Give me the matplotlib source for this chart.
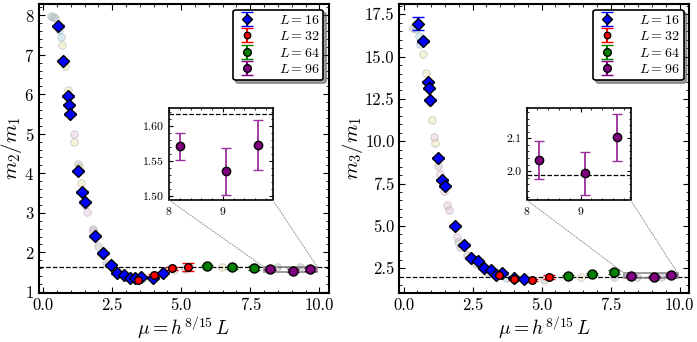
import matplotlib
matplotlib.use('Agg')
import matplotlib.pyplot as plt
import numpy as np
from matplotlib.patches import Rectangle, ConnectionPatch
from matplotlib.ticker import AutoMinorLocator, MultipleLocator

plt.rcParams['font.family'] = 'serif'
plt.rcParams['font.serif'] = ['cmr10', 'DejaVu Serif']
plt.rcParams['mathtext.fontset'] = 'cm'
plt.rcParams['axes.formatter.use_mathtext'] = True
plt.rcParams['axes.unicode_minus'] = False

# ---- data: m2/m1 ----
L_labels = ['16', '32', '64', '96']

m2_x16 = [0.54, 0.72, 0.89, 0.93, 0.97, 1.27, 1.39, 1.51, 1.87, 2.17, 2.44, 2.68, 2.92, 3.14, 3.33, 3.54, 3.96, 4.35]
m2_y16 = [7.72, 6.85, 5.95, 5.74, 5.50, 4.06, 3.53, 3.28, 2.41, 1.99, 1.69, 1.48, 1.42, 1.36, 1.34, 1.38, 1.36, 1.49]
m2_e16 = [0.03, 0.02, 0.02, 0.02, 0.02, 0.02, 0.02, 0.02, 0.02, 0.02, 0.02, 0.02, 0.02, 0.02, 0.02, 0.02, 0.02, 0.02]
m2_x32 = [3.45, 4.01, 4.66, 5.25]
m2_y32 = [1.31, 1.42, 1.60, 1.63]
m2_e32 = [0.02, 0.03, 0.04, 0.10]
m2_x64 = [5.94, 6.82, 7.63]
m2_y64 = [1.66, 1.62, 1.61]
m2_e64 = [0.02, 0.03, 0.05]
m2_x96 = [8.21, 9.06, 9.65]
m2_y96 = [1.571, 1.535, 1.573]
m2_e96 = [0.019, 0.034, 0.036]

m2_bg_x = [0.30, 0.36, 0.42, 0.58, 0.64, 0.69, 0.79, 0.91, 1.11, 1.12, 1.27, 1.29, 1.36, 1.52, 1.58,
           1.79, 1.82, 2.00, 2.11, 2.29, 2.60, 3.00, 3.62, 4.10, 4.75, 5.15, 6.46, 8.45, 9.30]
m2_bg_y = [7.98, 7.96, 7.92, 7.62, 7.45, 7.25, 6.72, 6.10, 4.99, 4.80, 4.24, 4.15, 3.76, 3.20, 3.02,
           2.60, 2.55, 2.16, 1.97, 1.72, 1.53, 1.38, 1.34, 1.38, 1.55, 1.58, 1.63, 1.64, 1.63]
m2_bg_g = ['g', 'c', 'g', 'c', 'c', 'y', 'y', 'y', 'p', 'y', 'g', 'y', 'y', 'p', 'p',
           'g', 'p', 'g', 'c', 'g', 'g', 'g', 'c', 'g', 'y', 'g', 'y', 'g', 'g']

# ---- data: m3/m1 ----
m3_x16 = [0.54, 0.72, 0.89, 0.93, 0.97, 1.26, 1.39, 1.51, 1.88, 2.20, 2.46, 2.70, 2.92, 3.16, 3.34, 3.56, 4.00, 4.37]
m3_y16 = [16.95, 15.93, 13.51, 13.12, 12.45, 9.01, 7.73, 7.34, 4.98, 3.88, 3.11, 2.91, 2.50, 2.42, 2.11, 2.21, 1.91, 1.87]
m3_e16 = [0.36, 0.05, 0.05, 0.05, 0.05, 0.05, 0.05, 0.05, 0.05, 0.05, 0.05, 0.05, 0.05, 0.05, 0.05, 0.05, 0.05, 0.05]
m3_x32 = [3.46, 4.00, 4.67, 5.27]
m3_y32 = [2.07, 1.87, 1.81, 1.97]
m3_e32 = [0.05, 0.05, 0.06, 0.12]
m3_x64 = [5.96, 6.83, 7.62]
m3_y64 = [2.05, 2.15, 2.30]
m3_e64 = [0.05, 0.06, 0.12]
m3_x96 = [8.23, 9.08, 9.68]
m3_y96 = [2.034, 1.993, 2.104]
m3_e96 = [0.057, 0.065, 0.072]

m3_bg_x = [0.33, 0.45, 0.55, 0.60, 0.69, 0.81, 0.97, 1.03, 1.11, 1.15, 1.25, 1.33, 1.45, 1.57, 1.63,
           1.93, 1.98, 2.05, 2.29, 2.62, 3.04, 3.70, 5.09, 6.42, 7.62, 8.47, 9.31]
m3_bg_y = [16.71, 16.60, 16.20, 15.77, 15.15, 14.05, 12.30, 11.25, 10.25, 9.90, 8.55, 8.06, 7.08, 6.25, 5.96,
           4.35, 4.05, 3.75, 3.30, 2.76, 2.27, 1.93, 1.81, 2.00, 2.00, 2.00, 2.00]
m3_bg_g = ['g', 'c', 'c', 'c', 'y', 'y', 'g', 'y', 'p', 'y', 'g', 'p', 'p', 'p', 'p',
           'p', 'g', 'g', 'g', 'g', 'g', 'c', 'g', 'y', 'g', 'g', 'g']

ratio_m2 = 2 * np.cos(np.pi / 5)
ratio_m3 = 2 * np.cos(np.pi / 30)

bg_colors = {'g': '#bdbdbd', 'c': '#9fd8e0', 'y': '#e6e2a6', 'p': '#e6bfdc'}
series_style = [
    ('blue', 'D', 6.5),
    ('red', 'o', 5.5),
    ('green', 'o', 6.5),
    ('purple', 'o', 6.5),
]


def style_axes(ax, lw=1.5, labelsize=12, major=4, minor=2):
    for s in ax.spines.values():
        s.set_linewidth(lw)
    ax.tick_params(which='both', direction='in', top=True, right=True, labelsize=labelsize)
    ax.tick_params(which='major', length=major)
    ax.tick_params(which='minor', length=minor)
    ax.xaxis.set_minor_locator(AutoMinorLocator())
    ax.yaxis.set_minor_locator(AutoMinorLocator())


def draw_panel(ax, axins, series, bg, ref, ylim, ylabel, ins_ylim, ins_yticks, ins_fmt):
    bx, by, bg_g = bg
    for xi, yi, gi in zip(bx, by, bg_g):
        ax.plot(xi, yi, 'o', ms=5.5, mfc=bg_colors[gi], mec='#9a9a9a', mew=0.6, alpha=0.45, zorder=1)

    ax.axhline(ref, color='black', ls='--', lw=0.9, zorder=2)

    for (x, y, e), lab, (c, m, ms) in zip(series, L_labels, series_style):
        ax.errorbar(x, y, yerr=e, fmt=m, color=c, mfc=c, mec='black', mew=1.0, ms=ms,
                    ecolor=c, elinewidth=1.5, capsize=4, capthick=1.5,
                    label=r'$L = %s$' % lab, zorder=3)

    ax.set_xlim(-0.15, 10.35)
    ax.set_ylim(*ylim)
    ax.set_xlabel(r'$\mu = h^{8/15}\, L$', fontsize=14, labelpad=1)
    ax.set_ylabel(ylabel, fontsize=15, labelpad=0)
    style_axes(ax)
    ax.xaxis.set_major_locator(MultipleLocator(2.5))
    ax.xaxis.set_major_formatter(plt.FuncFormatter(lambda v, _: f'{v:.1f}'))

    leg = ax.legend(loc='upper right', fontsize=10, handletextpad=1.6, handlelength=1.4,
                    borderpad=0.3, labelspacing=0.25, borderaxespad=0.4, markerscale=0.85,
                    fancybox=True, shadow=True, framealpha=1, edgecolor='black')
    leg.get_frame().set_linewidth(1.2)

    # inset
    x96, y96, e96 = series[3]
    axins.axhline(ref, color='black', ls='--', lw=0.9)
    axins.errorbar(x96, y96, yerr=e96, fmt='o', color='purple', mfc='purple', mec='black', mew=1.0,
                   ms=6, ecolor='#9a2e9a', elinewidth=1.3, capsize=3.5, capthick=1.3)
    axins.set_xlim(8, 9.93)
    axins.set_ylim(*ins_ylim)
    axins.set_xticks([8, 9])
    axins.set_yticks(ins_yticks)
    axins.yaxis.set_major_formatter(plt.FuncFormatter(lambda v, _: ins_fmt.format(v)))
    style_axes(axins, lw=1.2, labelsize=8.5, major=3, minor=1.5)

    rect = Rectangle((8, ins_ylim[0]), 9.93 - 8, ins_ylim[1] - ins_ylim[0], fill=False,
                     edgecolor='#8c8c8c', lw=1.2, zorder=2)
    ax.add_patch(rect)
    for xc in (8, 9.93):
        con = ConnectionPatch(xyA=(xc, ins_ylim[0]), coordsA=axins.transData,
                              xyB=(xc, ins_ylim[1]), coordsB=ax.transData,
                              color='#8c8c8c', lw=0.7, ls=':')
        fig.add_artist(con)


fig = plt.figure(figsize=(6.97, 3.42), dpi=100)
ax1 = fig.add_axes([0.056, 0.143, 0.416, 0.845])
ax2 = fig.add_axes([0.573, 0.143, 0.416, 0.845])
ins1 = fig.add_axes([0.2425, 0.415, 0.149, 0.269])
ins2 = fig.add_axes([0.7557, 0.415, 0.149, 0.269])

draw_panel(ax1, ins1,
           [(m2_x16, m2_y16, m2_e16), (m2_x32, m2_y32, m2_e32), (m2_x64, m2_y64, m2_e64), (m2_x96, m2_y96, m2_e96)],
           (m2_bg_x, m2_bg_y, m2_bg_g), ratio_m2, (0.97, 8.28), r'$m_2/m_1$',
           (1.494, 1.626), [1.50, 1.55, 1.60], '{:.2f}')
draw_panel(ax2, ins2,
           [(m3_x16, m3_y16, m3_e16), (m3_x32, m3_y32, m3_e32), (m3_x64, m3_y64, m3_e64), (m3_x96, m3_y96, m3_e96)],
           (m3_bg_x, m3_bg_y, m3_bg_g), ratio_m3, (1.03, 18.1), r'$m_3/m_1$',
           (1.911, 2.193), [2.0, 2.1], '{:.1f}')

ax1.yaxis.set_major_locator(MultipleLocator(1))
ax2.yaxis.set_major_locator(MultipleLocator(2.5))
ax2.yaxis.set_major_formatter(plt.FuncFormatter(lambda v, _: f'{v:.1f}'))

fig.savefig('out.png', dpi=100)
